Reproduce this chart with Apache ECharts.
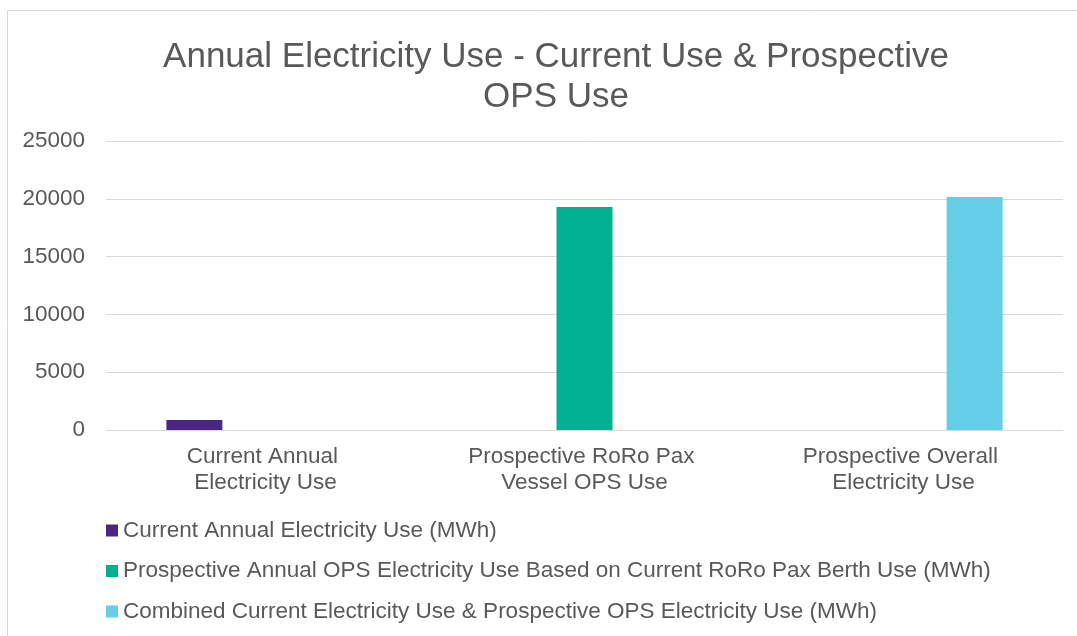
<!DOCTYPE html>
<html>
<head>
<meta charset="utf-8">
<script src="https://cdn.jsdelivr.net/npm/echarts@6/dist/echarts.min.js"></script>
<style>html,body{margin:0;padding:0;background:#fff;}#c{width:1077px;height:636px;}</style>
</head>
<body>
<div id="c"></div>
<script>
const titleText = 'Annual Electricity Use - Current Use & Prospective\nOPS Use';
const categories = ['Current Annual Electricity Use', 'Prospective RoRo Pax Vessel OPS Use', 'Prospective Overall Electricity Use'];
const seriesNames = [
  'Current Annual Electricity Use (MWh)',
  'Prospective Annual OPS Electricity Use Based on Current RoRo Pax Berth Use (MWh)',
  'Combined Current Electricity Use & Prospective OPS Electricity Use (MWh)'
];
const currentUse = [860, null, null];
const prospectiveOps = [null, 19300, null];
const combinedUse = [null, null, 20160];
const yTicks = [0, 5000, 10000, 15000, 20000, 25000];
const colors = ['#4B2683', '#00B092', '#65CDE8'];

const chart = echarts.init(document.getElementById('c'));
const font = '"Liberation Sans", Arial, sans-serif';
const seriesData = [currentUse, prospectiveOps, combinedUse];
chart.setOption({
  animation: false,
  textStyle: { fontFamily: font },
  graphic: [{
    type: 'rect', shape: { x: 7.5, y: 10.5, width: 1200, height: 800 },
    style: { fill: 'none', stroke: '#D9D9D9', lineWidth: 1 }, silent: true, z: -1
  }],
  title: {
    text: titleText, left: 556, top: 37, textAlign: 'center', padding: 0,
    textStyle: { fontFamily: font, fontSize: 35, fontWeight: 'normal', color: '#595959', lineHeight: 40.5 }
  },
  grid: { left: 106, right: 14, top: 141, bottom: 206, containLabel: false },
  legend: {
    orient: 'vertical', left: 106, top: 519, itemWidth: 12, itemHeight: 12, itemGap: 17.5, padding: 0,
    icon: 'rect', data: seriesNames,
    textStyle: { fontFamily: font, fontSize: 22.5, color: '#595959', padding: [0, 0, 0, 0] }
  },
  xAxis: {
    type: 'category', data: categories,
    axisLine: { lineStyle: { color: '#D9D9D9', width: 1 } },
    axisTick: { show: false },
    axisLabel: { color: '#595959', fontSize: 22.5, margin: 14, lineHeight: 26, width: 245, overflow: 'break', interval: 0 }
  },
  yAxis: {
    type: 'value', min: yTicks[0], max: yTicks[yTicks.length - 1], interval: yTicks[1] - yTicks[0],
    axisLine: { show: false }, axisTick: { show: false },
    splitLine: { lineStyle: { color: '#D9D9D9', width: 1 } },
    axisLabel: { color: '#595959', fontSize: 22.5, margin: 21, formatter: v => String(v) }
  },
  series: seriesNames.map((n, i) => ({
    name: n, type: 'bar', data: seriesData[i], barWidth: 56, barGap: '27%',
    itemStyle: { color: colors[i] }
  }))
});
</script>
</body>
</html>
